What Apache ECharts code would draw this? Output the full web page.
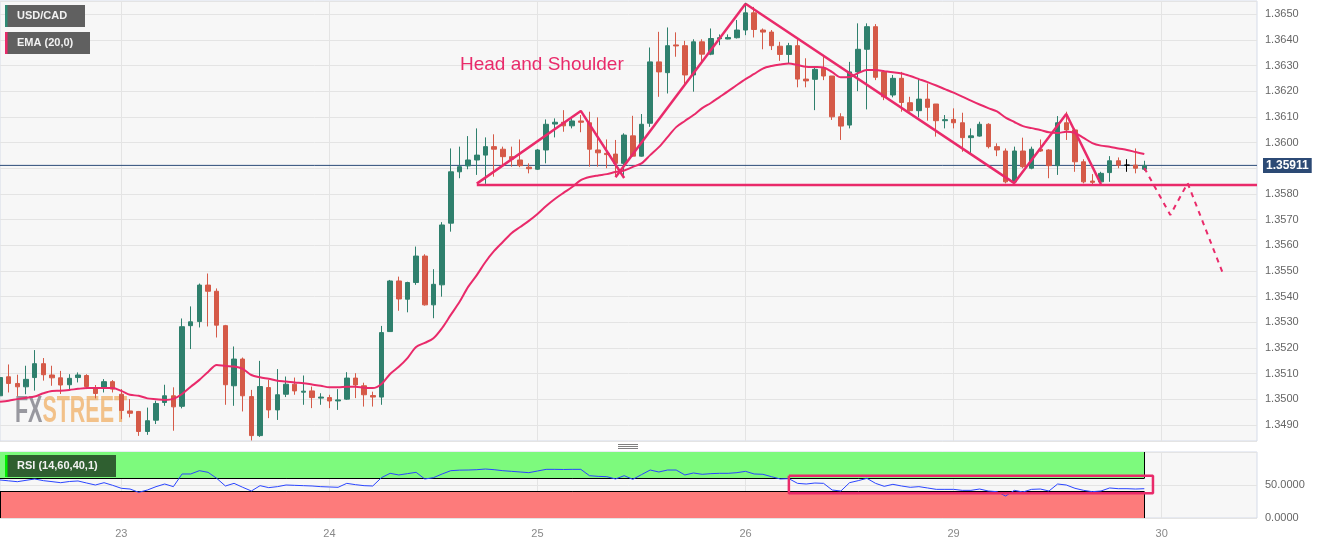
<!DOCTYPE html>
<html><head><meta charset="utf-8">
<script src="https://cdn.jsdelivr.net/npm/echarts@6/dist/echarts.min.js"></script>
<style>html,body{margin:0;padding:0;background:#fff}#c{width:1328px;height:545px}</style>
</head><body><div id="c"></div>
<script>
// ---- data (hourly candles, index 0 = first visible hour) ----
const slotCount = 146;
const dayIndex = [14, 38, 62, 86, 110, 134];
const dayLabels = ['23', '24', '25', '26', '29', '30'];

const opens = [1.35014,1.35088,1.35062,1.35049,1.35085,1.35139,1.35095,1.35084,1.35057,1.35085,1.35093,1.35045,1.35043,1.35069,1.35020,1.34955,1.34953,1.34875,1.34919,1.34988,
1.35014,1.34973,1.35287,1.35303,1.35445,1.35421,1.35287,1.35053,1.35157,1.35011,1.34859,1.35046,1.34959,1.35020,1.35059,1.35028,1.35033,1.35005,1.35007,1.34994,
1.35001,1.35083,1.35053,1.35015,1.35009,1.35264,1.35461,1.35390,1.35455,1.35558,1.35368,1.35446,1.35686,1.35886,1.35909,1.35932,1.35951,1.35984,1.35974,1.35945,
1.35932,1.35904,1.35896,1.35971,1.36072,1.36079,1.36065,1.36084,1.36077,1.35971,1.35958,1.35955,1.35919,1.36026,1.35947,1.36075,1.36314,1.36272,1.36380,1.36377,
1.36263,1.36392,1.36344,1.36404,1.36403,1.36408,1.36438,1.36505,1.36438,1.36430,1.36375,1.36343,1.36377,1.36247,1.36246,1.36289,1.36259,1.36100,1.36068,1.36275,
1.36363,1.36451,1.36275,1.36185,1.36250,1.36155,1.36124,1.36169,1.36150,1.36085,1.36090,1.36077,1.36019,1.36025,1.36071,1.35984,1.35967,1.35847,1.35967,1.35900,
1.35974,1.35971,1.35910,1.36077,1.36049,1.35925,1.35850,1.35847,1.35883,1.35929,1.35912,1.35912,1.35896];
const closes = [1.35085,1.35062,1.35049,1.35078,1.35139,1.35096,1.35084,1.35056,1.35082,1.35095,1.35050,1.35023,1.35069,1.35040,1.34957,1.34946,1.34875,1.34917,1.34984,1.35014,
1.34971,1.35283,1.35302,1.35445,1.35421,1.35289,1.35057,1.35157,1.35014,1.34859,1.35050,1.34959,1.35018,1.35059,1.35033,1.35032,1.35007,1.35009,1.34994,1.34998,
1.35083,1.35056,1.35018,1.35009,1.35260,1.35461,1.35391,1.35455,1.35558,1.35368,1.35448,1.35679,1.35886,1.35906,1.35932,1.35951,1.35984,1.35974,1.35945,1.35935,
1.35910,1.35898,1.35971,1.36071,1.36079,1.36065,1.36084,1.36079,1.35974,1.35960,1.35953,1.35919,1.36029,1.35947,1.36071,1.36314,1.36275,1.36377,1.36376,1.36263,
1.36392,1.36344,1.36405,1.36408,1.36409,1.36438,1.36505,1.36440,1.36430,1.36377,1.36343,1.36377,1.36247,1.36240,1.36285,1.36259,1.36100,1.36064,1.36275,1.36363,
1.36451,1.36254,1.36178,1.36250,1.36156,1.36124,1.36169,1.36137,1.36085,1.36089,1.36077,1.36019,1.36026,1.36071,1.35984,1.35971,1.35847,1.35967,1.35906,1.35974,
1.35967,1.35910,1.36077,1.36049,1.35925,1.35847,1.35845,1.35880,1.35929,1.35912,1.35912,1.35900,1.35911];
const lows = [1.34959,1.35027,1.35012,1.35020,1.35034,1.35073,1.35053,1.35021,1.35037,1.35066,1.35040,1.35004,1.35027,1.35027,1.34923,1.34930,1.34858,1.34862,1.34904,1.34975,
1.34878,1.34965,1.35196,1.35280,1.35284,1.35241,1.34979,1.34975,1.34953,1.34840,1.34854,1.34927,1.34920,1.35009,1.35018,1.34979,1.34966,1.34979,1.34966,1.34959,
1.34998,1.35005,1.34972,1.34972,1.34979,1.35263,1.35345,1.35339,1.35446,1.35365,1.35316,1.35400,1.35653,1.35861,1.35896,1.35874,1.35839,1.35867,1.35906,1.35906,
1.35904,1.35880,1.35893,1.35919,1.36020,1.36042,1.36055,1.36040,1.35906,1.35906,1.35900,1.35867,1.35874,1.35945,1.35945,1.36061,1.36178,1.36191,1.36334,1.36224,
1.36198,1.36314,1.36340,1.36379,1.36402,1.36405,1.36418,1.36409,1.36363,1.36360,1.36318,1.36308,1.36215,1.36215,1.36126,1.36243,1.36088,1.36010,1.36055,1.36200,
1.36129,1.36243,1.36165,1.36176,1.36120,1.36120,1.36098,1.36085,1.36023,1.36055,1.36055,1.35964,1.35955,1.36023,1.35977,1.35947,1.35841,1.35844,1.35900,1.35896,
1.35964,1.35861,1.35874,1.36010,1.35886,1.35841,1.35831,1.35844,1.35847,1.35900,1.35886,1.35880,1.35890];
const highs = [1.35131,1.35136,1.35096,1.35131,1.35192,1.35161,1.35131,1.35111,1.35098,1.35105,1.35098,1.35056,1.35079,1.35075,1.35040,1.35001,1.34955,1.34968,1.34995,1.35057,
1.35047,1.35315,1.35362,1.35451,1.35490,1.35432,1.35290,1.35206,1.35163,1.35037,1.35150,1.35076,1.35118,1.35089,1.35085,1.35093,1.35050,1.35024,1.35018,1.35040,
1.35106,1.35102,1.35065,1.35030,1.35286,1.35465,1.35478,1.35458,1.35595,1.35565,1.35507,1.35690,1.35977,1.35984,1.36025,1.36055,1.36020,1.36032,1.35984,1.35984,
1.36012,1.35919,1.35975,1.36090,1.36094,1.36126,1.36094,1.36107,1.36120,1.36098,1.36012,1.36010,1.36036,1.36104,1.36111,1.36370,1.36431,1.36448,1.36429,1.36396,
1.36402,1.36402,1.36444,1.36421,1.36421,1.36477,1.36544,1.36528,1.36444,1.36438,1.36392,1.36388,1.36402,1.36328,1.36295,1.36337,1.36259,1.36114,1.36314,1.36464,
1.36464,1.36461,1.36282,1.36263,1.36275,1.36178,1.36250,1.36230,1.36150,1.36107,1.36133,1.36116,1.36055,1.36081,1.36075,1.35997,1.35977,1.35984,1.36019,1.35984,
1.36012,1.35974,1.36103,1.36120,1.36055,1.35935,1.35877,1.35886,1.35947,1.35942,1.35935,1.35977,1.35929];
const ema20 = [1.34991,1.34995,1.35001,1.35006,1.35011,1.35024,1.35033,1.35034,1.35037,1.35041,1.35044,1.35044,1.35044,1.35044,1.35033,1.35018,1.35014,1.35004,1.35001,1.34998,
1.35002,1.35021,1.35049,1.35076,1.35107,1.35134,1.35130,1.35128,1.35119,1.35095,1.35086,1.35080,1.35073,1.35070,1.35066,1.35063,1.35058,1.35053,1.35047,1.35047,
1.35049,1.35049,1.35045,1.35044,1.35060,1.35099,1.35127,1.35161,1.35204,1.35220,1.35238,1.35278,1.35329,1.35379,1.35438,1.35484,1.35535,1.35578,1.35613,1.35647,
1.35671,1.35695,1.35722,1.35753,1.35780,1.35804,1.35827,1.35854,1.35866,1.35872,1.35877,1.35885,1.35891,1.35905,1.35919,1.35951,1.35982,1.36021,1.36060,1.36084,
1.36107,1.36134,1.36154,1.36177,1.36200,1.36224,1.36247,1.36267,1.36288,1.36298,1.36304,1.36308,1.36302,1.36295,1.36294,1.36292,1.36274,1.36254,1.36255,1.36270,
1.36282,1.36282,1.36278,1.36274,1.36269,1.36259,1.36247,1.36235,1.36222,1.36208,1.36194,1.36179,1.36163,1.36148,1.36134,1.36121,1.36097,1.36080,1.36064,1.36056,
1.36049,1.36040,1.36037,1.36042,1.36037,1.36018,1.35998,1.35988,1.35984,1.35977,1.35971,1.35963,1.35955];
const rsi14 = [57.6,56.3,55.0,57.1,59.1,56.6,55.1,53.5,55.3,56.1,53.0,50.0,53.5,49.5,45.0,43.9,38.9,42.4,47.5,51.5,
47.5,66.7,66.7,71.7,69.2,60.1,48.5,52.5,46.5,40.9,49.0,46.0,47.5,50.0,49.5,49.0,48.5,47.5,47.0,46.5,
52.5,50.5,49.0,48.5,61.1,67.7,65.2,67.2,69.2,59.1,61.1,66.7,71.7,72.5,72.7,73.2,74.2,73.2,71.7,70.7,
69.7,68.7,71.2,73.7,73.7,73.5,73.7,73.7,64.1,63.1,62.6,59.1,64.1,58.6,65.7,72.7,69.7,72.7,72.7,65.2,
68.2,66.2,67.2,67.7,67.7,68.7,70.7,66.7,66.2,62.6,59.1,59.6,52.5,51.5,53.0,52.5,42.4,40.9,53.5,56.6,
60.1,52.5,48.0,51.0,48.5,46.5,47.5,45.5,43.4,43.4,43.4,41.9,41.9,43.9,40.9,39.9,33.3,41.9,39.4,43.4,
43.9,40.9,51.5,50.0,45.0,41.9,39.9,40.9,45.5,44.4,44.4,43.9,44.4];
const lastPrice = 1.35911;
const rsiUpper = 60, rsiLower = 40;

// head & shoulders drawing, [hour index, price]
const neckline = [[55, 1.35835], [145, 1.35835]];
const leftShoulder = [[55, 1.35840], [67, 1.36123], [72, 1.35862]];
const headUp = [[71, 1.35865], [86, 1.36540]];
const headDownRightShoulder = [[86, 1.36540], [117, 1.35842], [123, 1.36111], [127, 1.35838]];
const projection = [[132, 1.35901], [135, 1.35718], [137, 1.35842], [141, 1.35496]];
const rsiBox = [[91, 64], [133, 64], [133, 37.5], [91, 37.5], [91, 64]];

// ---- build ----
const categories = Array.from({length: slotCount}, (_, i) => String(i));
const labelOf = i => { const k = dayIndex.indexOf(i); return k >= 0 ? dayLabels[k] : ''; };
const candleData = opens.map((o, i) => [o, closes[i], lows[i], highs[i]]);
const lastIdx = opens.length - 1;
const priceLine = [[0, lastPrice], [slotCount - 1, lastPrice]];

const PINK = '#e92a6a';
const GREEN = '#2f806d';
const RED = '#d55a48';
const GRIDLINE = '#e4e4e4';
const FONT = 'Arial, "Liberation Sans", sans-serif';

const xCommon = {
  type: 'category', data: categories, boundaryGap: false,
  axisLine: {show: false}, axisTick: {show: false},
  splitLine: {show: true, interval: (i) => dayIndex.indexOf(i) >= 0, lineStyle: {color: GRIDLINE, width: 1}}
};

const patLine = (data, extra) => Object.assign({
  type: 'line', xAxisIndex: 0, yAxisIndex: 0, data: data, showSymbol: false, symbol: 'none',
  silent: true, z: 6, lineStyle: {color: PINK, width: 2.5}
}, extra || {});

const chart = echarts.init(document.getElementById('c'), null, {renderer: 'canvas'});
chart.setOption({
  animation: false,
  backgroundColor: '#ffffff',
  grid: [
    {left: 0, right: 71, top: 1, height: 440, show: true, backgroundColor: '#f7f7f7', borderColor: '#d5dbe8', borderWidth: 1},
    {left: 0, right: 71, top: 452, height: 66, show: true, backgroundColor: '#f7f7f7', borderColor: '#d5dbe8', borderWidth: 1}
  ],
  xAxis: [
    Object.assign({gridIndex: 0, axisLabel: {show: false}}, xCommon),
    Object.assign({gridIndex: 1, axisLabel: {show: true, interval: (i) => dayIndex.indexOf(i) >= 0,
      formatter: (v) => labelOf(Number(v)), color: '#888', fontSize: 11, margin: 10, fontFamily: FONT}}, xCommon)
  ],
  yAxis: [
    {type: 'value', gridIndex: 0, position: 'right', min: 1.34838, max: 1.36551, splitNumber: 16,
     axisLine: {show: false}, axisTick: {show: false},
     splitLine: {lineStyle: {color: GRIDLINE}},
     axisLabel: {color: '#666', fontSize: 11, margin: 8, fontFamily: FONT,
       formatter: v => Math.abs(v * 1000 - Math.round(v * 1000)) < 1e-6 ? v.toFixed(4) : ''}},
    {type: 'value', gridIndex: 1, position: 'right', min: 0, max: 100, interval: 50,
     axisLine: {show: false}, axisTick: {show: false},
     splitLine: {lineStyle: {color: GRIDLINE}},
     axisLabel: {color: '#666', fontSize: 11, margin: 8, fontFamily: FONT,
       formatter: v => v >= 100 ? '' : v.toFixed(4)}}
  ],
  series: [
    {type: 'line', xAxisIndex: 0, yAxisIndex: 0, data: priceLine, showSymbol: false, symbol: 'none', silent: true, z: 2,
     lineStyle: {color: '#2b4a78', width: 1},
     endLabel: {show: true, formatter: () => lastPrice.toFixed(5), backgroundColor: '#2c4a75', color: '#fff',
       fontWeight: 'bold', fontSize: 12, padding: [2, 3, 1, 3], distance: 6, fontFamily: FONT}},
    {type: 'candlestick', xAxisIndex: 0, yAxisIndex: 0, data: candleData, barWidth: 5, z: 3,
     itemStyle: {color: GREEN, color0: RED, borderColor: GREEN, borderColor0: RED, borderColorDoji: '#000', borderWidth: 1}},
    {type: 'line', xAxisIndex: 0, yAxisIndex: 0, data: ema20, showSymbol: false, symbol: 'none', silent: true, z: 5,
     smooth: 0.3, lineStyle: {color: PINK, width: 2}},
    patLine(neckline),
    patLine(leftShoulder),
    patLine(headUp),
    patLine(headDownRightShoulder),
    patLine(projection, {lineStyle: {color: PINK, width: 2, type: [5, 5]}}),
    {type: 'line', xAxisIndex: 1, yAxisIndex: 1, data: rsi14, showSymbol: false, symbol: 'none', silent: true, z: 4,
     lineStyle: {color: '#2a45ff', width: 1},
     markArea: {silent: true, z: 1,
       data: [
         [{coord: [0, rsiUpper], itemStyle: {color: '#7dfa7d'}}, {coord: [lastIdx, 100]}],
         [{coord: [0, 0], itemStyle: {color: '#fd7b7b'}}, {coord: [lastIdx, rsiLower]}]
       ]},
     markLine: {symbol: 'none', silent: true, z: 3, label: {show: false},
       lineStyle: {color: '#000', width: 1, type: 'solid'},
       data: [
         [{coord: [0, rsiUpper]}, {coord: [lastIdx, rsiUpper]}],
         [{coord: [0, rsiLower]}, {coord: [lastIdx, rsiLower]}],
         [{coord: [lastIdx, rsiUpper]}, {coord: [lastIdx, 100]}],
         [{coord: [lastIdx, 0]}, {coord: [lastIdx, rsiLower]}],
         [{coord: [0, 0]}, {coord: [0, rsiLower]}]
       ]}},
    {type: 'line', xAxisIndex: 1, yAxisIndex: 1, data: rsiBox, showSymbol: false, symbol: 'none', silent: true, z: 6,
     lineStyle: {color: PINK, width: 2.5}}
  ],
  graphic: [
    // legend boxes
    {type: 'rect', left: 5, top: 5, z: 100, shape: {width: 80, height: 22}, style: {fill: '#606060'}},
    {type: 'rect', left: 5, top: 5, z: 101, shape: {width: 2.5, height: 22}, style: {fill: '#2e8b74'}},
    {type: 'text', left: 17, top: 10, z: 101, style: {text: 'USD/CAD', fill: '#f2f2f2', font: 'bold 11px ' + FONT}},
    {type: 'rect', left: 5, top: 32, z: 100, shape: {width: 85, height: 22}, style: {fill: '#606060'}},
    {type: 'rect', left: 5, top: 32, z: 101, shape: {width: 2.5, height: 22}, style: {fill: PINK}},
    {type: 'text', left: 17, top: 37, z: 101, style: {text: 'EMA (20,0)', fill: '#f2f2f2', font: 'bold 11px ' + FONT}},
    {type: 'rect', left: 5, top: 455, z: 100, shape: {width: 111, height: 22}, style: {fill: '#2f5f30'}},
    {type: 'rect', left: 5, top: 455, z: 101, shape: {width: 2.5, height: 22}, style: {fill: '#00ee00'}},
    {type: 'text', left: 17, top: 460, z: 101, style: {text: 'RSI (14,60,40,1)', fill: '#f2f2f2', font: 'bold 11px ' + FONT}},
    // annotation
    {type: 'text', left: 460, top: 55, z: 100, style: {text: 'Head and Shoulder', fill: PINK, font: '19px ' + FONT}},
    // watermark
    {type: 'text', x: 15, y: 393, z: 1, scaleX: 0.58, style: {
      text: '{a|FX}{b|STREET}', font: 'bold 37px "Liberation Sans Narrow", "Liberation Sans", sans-serif',
      rich: {a: {fill: 'rgba(120,120,130,0.75)', font: 'bold 37px "Liberation Sans Narrow", "Liberation Sans", sans-serif'},
             b: {fill: 'rgba(240,170,90,0.7)', font: 'bold 37px "Liberation Sans Narrow", "Liberation Sans", sans-serif'}}}},
    // panel drag handle
    {type: 'rect', left: 618, top: 444, z: 100, shape: {width: 20, height: 1}, style: {fill: '#808080'}},
    {type: 'rect', left: 618, top: 446, z: 100, shape: {width: 20, height: 1}, style: {fill: '#808080'}},
    {type: 'rect', left: 618, top: 448, z: 100, shape: {width: 20, height: 1}, style: {fill: '#808080'}}
  ]
});
</script>
</body></html>
